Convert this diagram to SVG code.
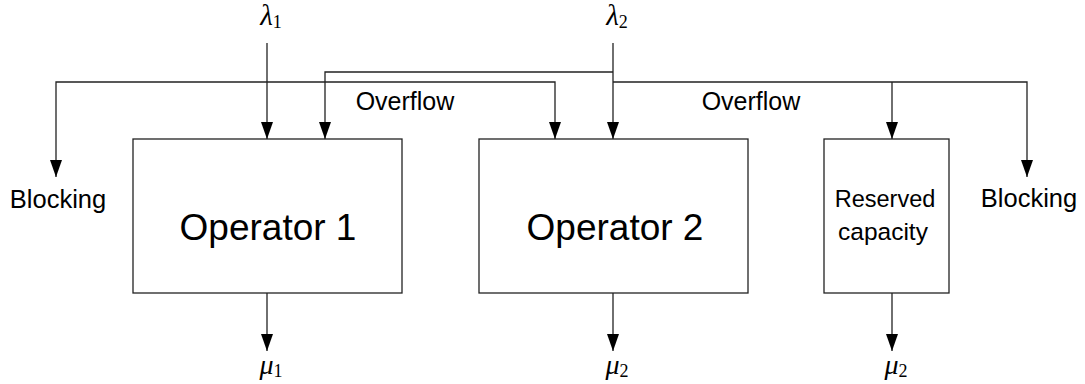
<svg xmlns="http://www.w3.org/2000/svg" width="1085" height="384" viewBox="0 0 1085 384">
  <style>
    .box { fill: #fff; stroke: #222; stroke-width: 1.3; }
    .wire { fill: none; stroke: #222; stroke-width: 1.3; }
    .lbl { font-family: "Liberation Sans", Arial, sans-serif; fill: #000; text-anchor: middle; }
    .math { font-family: "Liberation Serif", "Times New Roman", serif; font-style: italic; fill: #000; text-anchor: middle; }
    .sub { font-style: normal; }
  </style>
  <defs>
    <marker id="arrow" markerUnits="userSpaceOnUse" markerWidth="17" markerHeight="12" refX="17" refY="6" orient="auto-start-reverse">
      <path d="M0,0 L17,6 L0,12 Z" fill="#000"/>
    </marker>
  </defs>

  <rect width="1085" height="384" fill="#fff"/>

  <!-- connectors -->
  <g id="connectors">
    <!-- arrivals -->
    <path class="wire" d="M267,43 V139" marker-end="url(#arrow)"/>
    <path class="wire" d="M613,43 V139" marker-end="url(#arrow)"/>
    <!-- operator 2 traffic overflowing to operator 1 -->
    <path class="wire" d="M613,72 H325 V139" marker-end="url(#arrow)"/>
    <!-- operator 1 traffic: overflow to operator 2, or blocked -->
    <path class="wire" d="M56,177 V82 H555 V139" marker-start="url(#arrow)" marker-end="url(#arrow)"/>
    <!-- operator 2 traffic: reserved capacity, or blocked -->
    <path class="wire" d="M613,82 H1027 V177" marker-end="url(#arrow)"/>
    <path class="wire" d="M892,82 V139" marker-end="url(#arrow)"/>
    <!-- departures -->
    <path class="wire" d="M267,293 V351" marker-end="url(#arrow)"/>
    <path class="wire" d="M613,293 V351" marker-end="url(#arrow)"/>
    <path class="wire" d="M892,293 V351" marker-end="url(#arrow)"/>
  </g>

  <!-- nodes -->
  <g id="operator1">
    <rect class="box" x="133" y="139" width="269" height="154"/>
    <text class="lbl" x="268" y="240" font-size="37">Operator 1</text>
  </g>
  <g id="operator2">
    <rect class="box" x="479" y="139" width="269" height="154"/>
    <text class="lbl" x="615" y="240" font-size="37">Operator 2</text>
  </g>
  <g id="reserved">
    <rect class="box" x="824" y="139" width="125" height="154"/>
    <text class="lbl" x="885" y="207" font-size="23.5">Reserved</text>
    <text class="lbl" x="883" y="240" font-size="24.5">capacity</text>
  </g>

  <!-- labels -->
  <g id="labels">
    <text class="math" x="271" y="25" font-size="29">λ<tspan class="sub" font-size="18" dy="3">1</tspan></text>
    <text class="math" x="617" y="25" font-size="29">λ<tspan class="sub" font-size="18" dy="3">2</tspan></text>
    <text class="lbl" x="405" y="110" font-size="25">Overflow</text>
    <text class="lbl" x="751" y="110" font-size="25">Overflow</text>
    <text class="lbl" x="58" y="208" font-size="25.5">Blocking</text>
    <text class="lbl" x="1029" y="207" font-size="25.5">Blocking</text>
    <text class="math" x="271" y="374" font-size="28">μ<tspan class="sub" font-size="18" dy="3">1</tspan></text>
    <text class="math" x="617" y="374" font-size="28">μ<tspan class="sub" font-size="18" dy="3">2</tspan></text>
    <text class="math" x="896" y="374" font-size="28">μ<tspan class="sub" font-size="18" dy="3">2</tspan></text>
  </g>
</svg>
